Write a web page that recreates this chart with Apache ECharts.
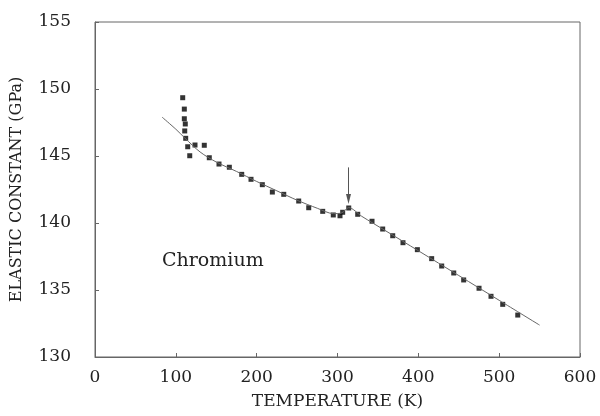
<!DOCTYPE html>
<html>
<head>
<meta charset="utf-8">
<script src="https://cdn.jsdelivr.net/npm/echarts@6/dist/echarts.min.js"></script>
<style>html,body{margin:0;padding:0;background:#fff}#c{width:600px;height:416px}</style>
</head>
<body>
<div id="c"></div>
<script>
// Measured points
var tempK = [108.5, 110.5, 110.5, 111.7, 111.0, 112.2, 114.7, 117.2, 123.7, 135.2, 141.4, 153.4, 166.2, 181.5, 193.0, 207.0, 219.4, 233.5, 252.0, 264.4, 281.7, 294.8, 303.1, 306.4, 313.9, 325.0, 342.7, 355.9, 368.3, 381.0, 398.8, 416.5, 428.9, 443.8, 456.1, 475.1, 489.9, 504.4, 523.0];
var elastic = [149.35, 148.5, 147.78, 147.39, 146.87, 146.32, 145.69, 145.02, 145.82, 145.8, 144.87, 144.40, 144.16, 143.63, 143.26, 142.86, 142.31, 142.14, 141.64, 141.14, 140.87, 140.60, 140.54, 140.80, 141.12, 140.65, 140.13, 139.55, 139.05, 138.53, 138.01, 137.34, 136.79, 136.27, 135.75, 135.13, 134.53, 133.93, 133.13];
// Fitted curve
var fitT = [83, 100, 111, 130, 150, 175, 200, 225, 250, 275, 295, 305, 313.9, 330, 360, 400, 450, 500, 550];
var fitE = [147.9, 147.0, 146.35, 145.3, 144.55, 143.85, 143.1, 142.4, 141.7, 141.1, 140.7, 140.75, 141.15, 140.5, 139.4, 137.93, 136.08, 134.23, 132.38];
// Arrow marking the transition
var arrowT = [313.6, 313.6];
var arrowE = [144.15, 141.8];
var xTicks = [0, 600, 100];
var yTicks = [130, 155, 5];
var xTitle = 'TEMPERATURE (K)';
var yTitle = 'ELASTIC CONSTANT (GPa)';
var label = 'Chromium';

var serif = 'DejaVu Serif';
var chart = echarts.init(document.getElementById('c'));
chart.setOption({
  animation: false,
  backgroundColor: '#fff',
  grid: {left: 95, right: 20, top: 22, bottom: 59, show: true, borderColor: '#666', borderWidth: 1},
  xAxis: {
    type: 'value', min: xTicks[0], max: xTicks[1], interval: xTicks[2],
    axisLine: {show: true, lineStyle: {color: '#666', width: 1}},
    axisTick: {show: true, inside: true, length: 4, lineStyle: {color: '#666'}},
    splitLine: {show: false},
    axisLabel: {margin: 12, fontFamily: serif, fontSize: 17, color: '#222'},
    name: xTitle, nameLocation: 'middle', nameGap: 36,
    nameTextStyle: {fontFamily: serif, fontSize: 17, color: '#222'}
  },
  yAxis: {
    type: 'value', min: yTicks[0], max: yTicks[1], interval: yTicks[2],
    axisLine: {show: true, lineStyle: {color: '#666', width: 1}},
    axisTick: {show: true, inside: true, length: 4, lineStyle: {color: '#666'}},
    splitLine: {show: false},
    axisLabel: {margin: 24, fontFamily: serif, fontSize: 17, color: '#222'},
    name: yTitle, nameLocation: 'middle', nameGap: 70,
    nameTextStyle: {fontFamily: serif, fontSize: 16, color: '#222'}
  },
  graphic: [{
    type: 'text', left: 162, top: 252,
    style: {text: label, font: '19px "DejaVu Serif"', fill: '#222'}
  }],
  series: [
    {
      type: 'line', smooth: 0.3, showSymbol: false, silent: true,
      data: fitT.map(function (t, i) { return [t, fitE[i]]; }),
      lineStyle: {color: '#666', width: 1}
    },
    {
      type: 'scatter', symbol: 'rect', symbolSize: 5,
      data: tempK.map(function (t, i) { return [t, elastic[i]]; }),
      itemStyle: {color: '#000'},
      markLine: {
        silent: true, symbol: ['none', 'triangle'], symbolSize: [5, 10],
        label: {show: false},
        lineStyle: {color: '#555', width: 1, type: 'solid'},
        data: [[{coord: [arrowT[0], arrowE[0]]}, {coord: [arrowT[1], arrowE[1]]}]]
      }
    }
  ]
});
</script>
</body>
</html>
